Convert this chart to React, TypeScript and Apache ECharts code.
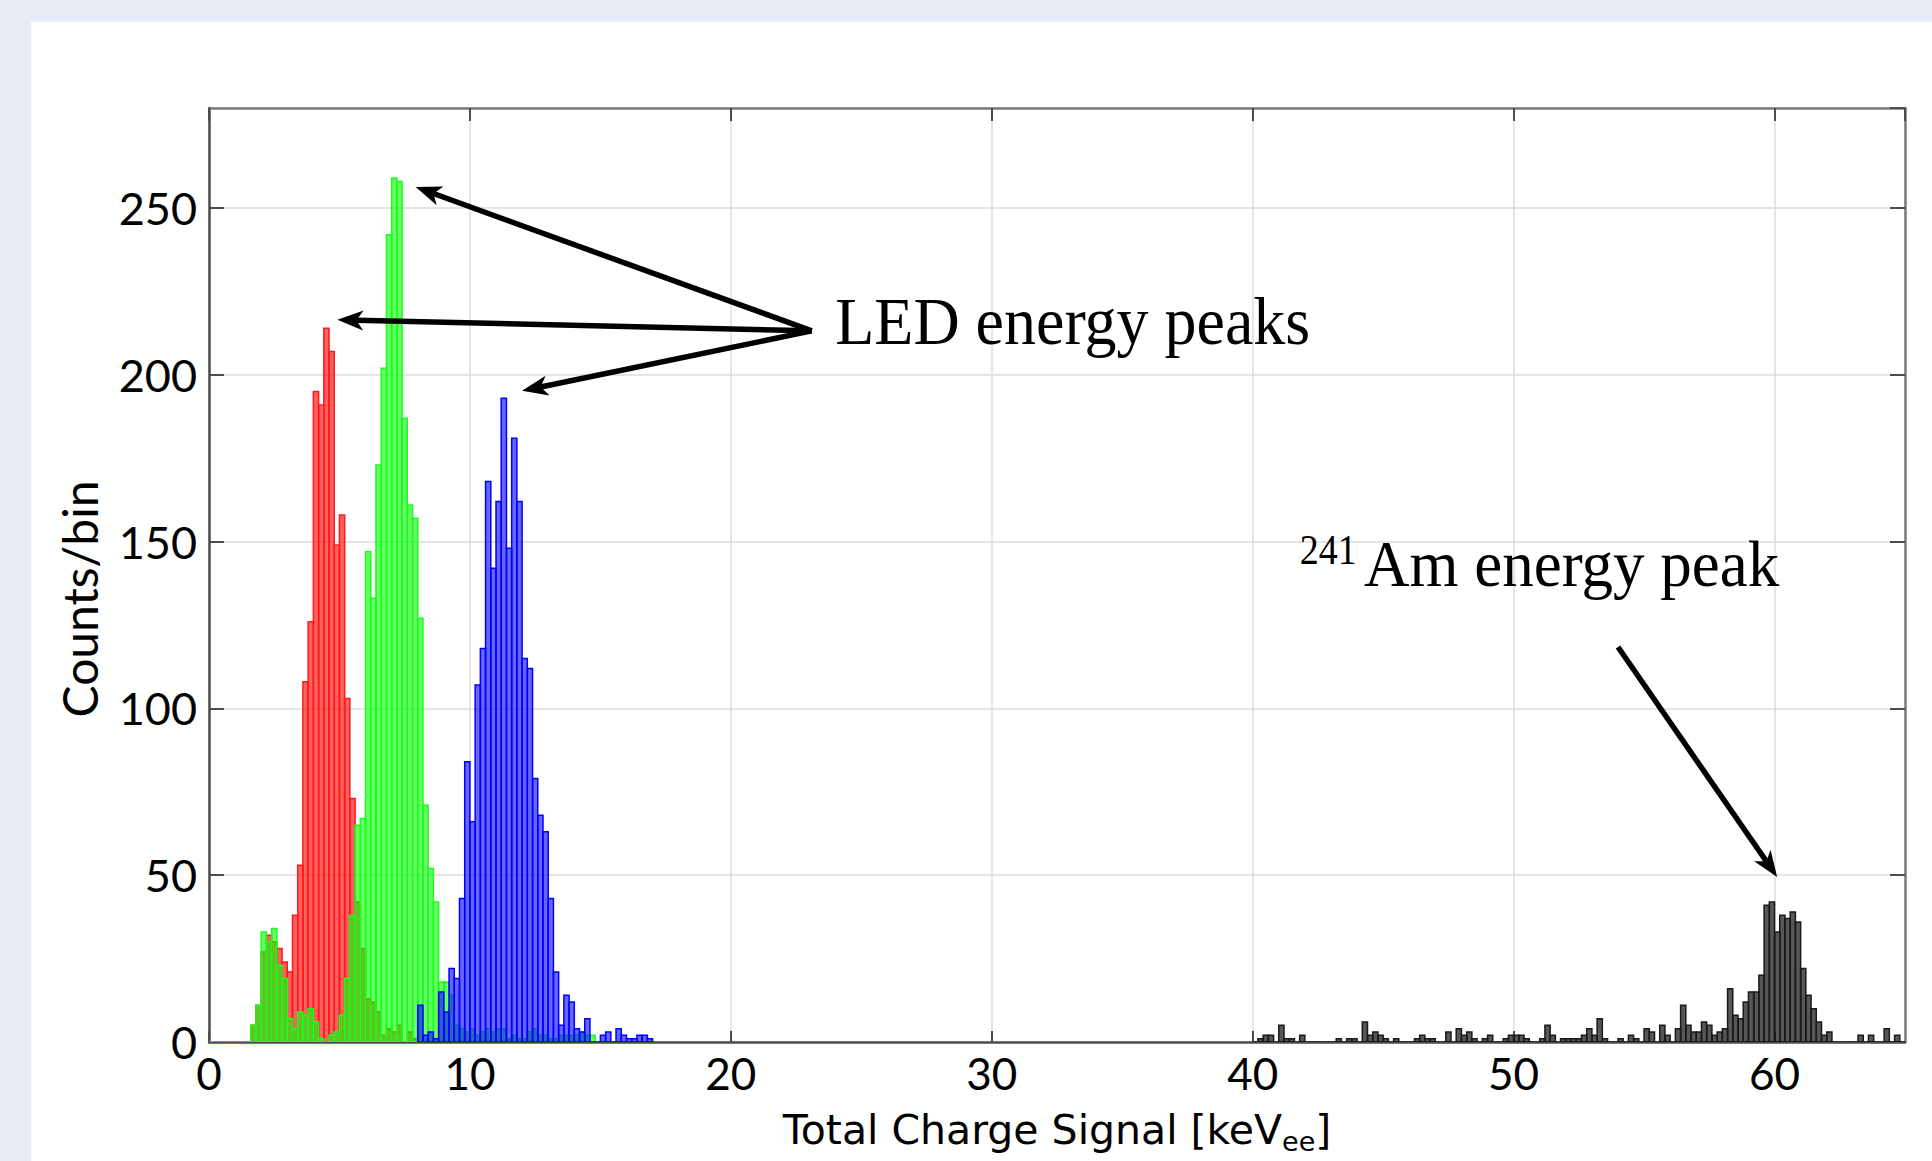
import React, { useEffect, useRef } from "react";
import * as echarts from "echarts";

// ---------- data (bin width 0.2 keVee) ----------
const BIN_WIDTH = 0.2;

const redStart = 1.6;
const redCounts = [5, 11, 27, 32, 30, 28, 24, 21, 38, 53, 108, 126, 195, 191, 214, 207, 149, 158, 103, 73, 42, 28, 13, 12, 9, 2, 4, 3, 5, 0, 3, 1];

const greenStart = 0.0;
const greenCounts = [0, 0, 0, 0, 0, 0, 0, 0, 5, 11, 33, 30, 34, 23, 19, 7, 4, 9, 8, 10, 6, 1, 0, 2, 3, 8, 19, 38, 65, 67, 147, 133, 173, 202, 242, 259, 258, 187, 161, 157, 127, 71, 52, 42, 18, 18, 14, 5, 4, 3, 4, 2, 3, 4, 3, 4, 4, 1, 2, 1, 1, 3, 4, 2, 2, 1, 1, 2, 2, 2, 2, 3, 2, 2, 0];

const blueStart = 8.0;
const blueCounts = [11, 2, 3, 1, 15, 9, 22, 19, 43, 84, 66, 107, 118, 168, 142, 162, 193, 148, 181, 162, 115, 112, 79, 68, 63, 43, 21, 5, 14, 12, 4, 3, 7, 0, 0, 2, 3, 0, 4, 2, 1, 1, 2, 2, 1];

const amStart = 40.0;
const amCounts = [
  0, 1, 2, 2, 0, 5, 1, 1, 0, 2,
  0, 0, 0, 0, 0, 0, 1, 0, 1, 1,
  0, 6, 2, 3, 2, 1, 0, 1, 0, 0,
  0, 1, 2, 1, 1, 0, 0, 3, 0, 4,
  2, 3, 1, 0, 1, 2, 0, 0, 1, 2,
  2, 2, 1, 0, 0, 1, 5, 2, 0, 1,
  1, 1, 1, 2, 4, 2, 7, 1, 0, 0,
  1, 0, 2, 1, 0, 4, 3, 0, 5, 2,
  0, 4, 11, 5, 3, 3, 6, 5, 2, 3,
  4, 16, 8, 7, 12, 15, 15, 20, 41, 42,
  33, 38, 37, 39, 36, 22, 14, 10, 6, 2,
  3, 0, 0, 0, 0, 0, 2, 0, 2, 0,
  0, 4, 0, 2, 0,
];

const xTicks = { min: 0, max: 65, interval: 10 };
const yTicks = { min: 0, max: 280, interval: 50 };

// annotation anchors in data coordinates
const ledArrowFrom = [23.1, 213.2];
const ledArrowTips = [
  [7.92, 256.3],
  [4.92, 216.5],
  [12.0, 195.2],
];
const amArrowFrom = [54.0, 118.4];
const amArrowTip = [60.1, 49.5];
const ledLabel = { text: "LED energy peaks", at: [24.0, 210.1] };
const isoLabel = { text: "241", at: [41.8, 143.6] };
const amLabel = { text: "Am energy peak", at: [44.27, 137.3] };

// ---------- helpers ----------
function toBins(start: number, counts: number[]) {
  return counts.map((c, i) => [start + i * BIN_WIDTH, start + (i + 1) * BIN_WIDTH, c]);
}

function makeRender(fill: string, stroke: string) {
  return (params: any, api: any) => {
    const x0 = api.value(0);
    const x1 = api.value(1);
    const y = api.value(2);
    const p0 = api.coord([x0, 0]);
    const p1 = api.coord([x1, y]);
    if (!y) {
      return {
        type: "line",
        shape: { x1: p0[0], y1: p0[1], x2: p1[0], y2: p0[1] },
        style: { stroke, lineWidth: 1.5 },
      };
    }
    return {
      type: "rect",
      shape: { x: p0[0], y: p1[1], width: p1[0] - p0[0], height: p0[1] - p1[1] },
      style: { fill, stroke, lineWidth: 1.5 },
    };
  };
}

function histSeries(name: string, start: number, counts: number[], fill: string, stroke: string, z: number) {
  return {
    type: "custom",
    name,
    xAxisIndex: 0,
    yAxisIndex: 0,
    z,
    silent: true,
    clip: true,
    encode: { x: [0, 1], y: 2 },
    data: toBins(start, counts),
    renderItem: makeRender(fill, stroke),
  };
}

function arrow(S: number[], T: number[]) {
  const headLen = 26;
  const headHalf = 10;
  const notch = 7;
  const dx = T[0] - S[0];
  const dy = T[1] - S[1];
  const L = Math.hypot(dx, dy);
  const ux = dx / L;
  const uy = dy / L;
  const px = -uy;
  const py = ux;
  const bx = T[0] - ux * headLen;
  const by = T[1] - uy * headLen;
  const nx = T[0] - ux * (headLen - notch);
  const ny = T[1] - uy * (headLen - notch);
  return [
    {
      type: "line",
      silent: true,
      z: 100,
      shape: { x1: S[0], y1: S[1], x2: nx, y2: ny },
      style: { stroke: "#000", lineWidth: 5.5 },
    },
    {
      type: "polygon",
      silent: true,
      z: 100,
      shape: {
        points: [
          [T[0], T[1]],
          [bx + px * headHalf, by + py * headHalf],
          [nx, ny],
          [bx - px * headHalf, by - py * headHalf],
        ],
      },
      style: { fill: "#000" },
    },
  ];
}

function serifText(text: string, p: number[], fontSize: number, scaleY: number) {
  // p = left/baseline pixel position
  return {
    type: "text",
    silent: true,
    z: 100,
    x: p[0],
    y: p[1] - 0.305 * fontSize * scaleY,
    scaleY,
    style: {
      text,
      x: 0,
      y: 0,
      fill: "#000",
      fontFamily: "Liberation Serif",
      fontSize,
      align: "left",
      verticalAlign: "middle",
    },
  };
}

const labelFont = "Lato";
const nameFont = "DejaVu Sans";
const axisDark = "#4d4d4d";
const axisLight = "#7a7a7a";

export default function App() {
  const ref = useRef<HTMLDivElement>(null);

  useEffect(() => {
    if (!ref.current) return;
    const chart = echarts.init(ref.current, null, { renderer: "svg" });

    const option: any = {
      animation: false,
      backgroundColor: "transparent",
      grid: { left: 209, right: 27, top: 108, bottom: 119, containLabel: false, outerBoundsMode: "none" },
      xAxis: [
        {
          type: "value",
          position: "bottom",
          min: xTicks.min,
          max: xTicks.max,
          interval: xTicks.interval,
          name: "Total Charge Signal [keV{sub|ee}]",
          nameLocation: "middle",
          nameGap: 62,
          nameMoveOverlap: false,
          nameTextStyle: {
            fontFamily: nameFont,
            fontSize: 41,
            color: "#000",
            rich: {
              sub: { fontFamily: nameFont, fontSize: 27, color: "#000", verticalAlign: "bottom", padding: [24, 0, 0, 0] },
            },
          },
          axisLine: { show: true, onZero: false, lineStyle: { color: axisDark, width: 2.5 } },
          axisTick: { show: true, inside: true, length: 11, lineStyle: { color: axisDark, width: 2 } },
          axisLabel: { fontFamily: labelFont, fontSize: 44, color: "#000", margin: 9, showMaxLabel: false },
          splitLine: { show: true, lineStyle: { color: "#dcdcdc", width: 1.5 } },
        },
        {
          type: "value",
          position: "top",
          min: xTicks.min,
          max: xTicks.max,
          interval: xTicks.interval,
          axisLine: { show: true, onZero: false, lineStyle: { color: axisLight, width: 2.5 } },
          axisTick: { show: true, inside: true, length: 13, lineStyle: { color: axisDark, width: 2 } },
          axisLabel: { show: false },
          splitLine: { show: false },
        },
      ],
      yAxis: [
        {
          type: "value",
          position: "left",
          min: yTicks.min,
          max: yTicks.max,
          interval: yTicks.interval,
          name: "Counts/bin",
          nameLocation: "middle",
          nameGap: 106,
          nameTextStyle: { fontFamily: labelFont, fontSize: 48, color: "#000", padding: [0, 48, 0, 0] },
          axisLine: { show: true, onZero: false, lineStyle: { color: axisDark, width: 2.5 } },
          axisTick: { show: true, inside: true, length: 15, lineStyle: { color: axisDark, width: 2 } },
          axisLabel: { fontFamily: labelFont, fontSize: 45, color: "#000", margin: 12, showMaxLabel: false },
          splitLine: { show: true, lineStyle: { color: "#dcdcdc", width: 1.5 } },
        },
        {
          type: "value",
          position: "right",
          min: yTicks.min,
          max: yTicks.max,
          interval: yTicks.interval,
          axisLine: { show: true, onZero: false, lineStyle: { color: axisLight, width: 2.5 } },
          axisTick: { show: true, inside: true, length: 15, lineStyle: { color: axisDark, width: 2 } },
          axisLabel: { show: false },
          splitLine: { show: false },
        },
      ],
      series: [
        histSeries("red", redStart, redCounts, "rgba(255,0,0,0.62)", "#ff1a1a", 2),
        histSeries("green", greenStart, greenCounts, "rgba(0,255,0,0.6)", "#1aff1a", 3),
        histSeries("blue", blueStart, blueCounts, "rgba(0,0,255,0.6)", "#0000ff", 4),
        histSeries("am241", amStart, amCounts, "rgba(0,0,0,0.66)", "#1a1a1a", 5),
      ],
    };

    chart.setOption(option);

    const px = (p: number[]) => chart.convertToPixel({ gridIndex: 0 } as any, p) as number[];

    const graphics: any[] = [];
    const from = px(ledArrowFrom);
    ledArrowTips.forEach((t) => graphics.push(...arrow(from, px(t))));
    graphics.push(...arrow(px(amArrowFrom), px(amArrowTip)));
    graphics.push(serifText(ledLabel.text, px(ledLabel.at), 64, 1.06));
    graphics.push(serifText(isoLabel.text, px(isoLabel.at), 38, 1.1));
    graphics.push(serifText(amLabel.text, px(amLabel.at), 63, 1.05));

    chart.setOption({ graphic: graphics });

    return () => chart.dispose();
  }, []);

  return (
    <div style={{ position: "fixed", left: 0, top: 0, width: 1932, height: 1161, background: "#e7ebf3", overflow: "hidden" }}>
      <div style={{ position: "absolute", left: 31, top: 22, right: 0, bottom: 0, background: "#ffffff" }} />
      <div ref={ref} style={{ position: "absolute", left: 0, top: 0, width: 1932, height: 1161 }} />
    </div>
  );
}
